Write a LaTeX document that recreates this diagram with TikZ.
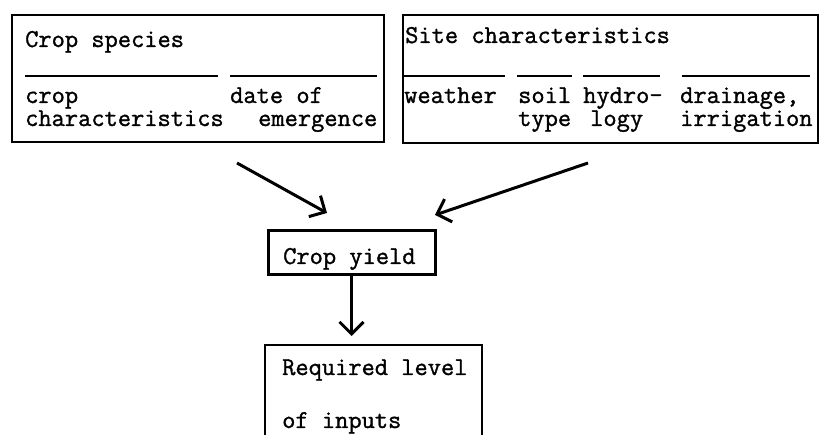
\documentclass[tikz,border=0pt]{standalone}
\usepackage{fontspec}
\newfontfamily\tw{Latin Modern Mono}[FakeBold=1.2]
\usetikzlibrary{arrows.meta}
\begin{document}
\begin{tikzpicture}[x=1pt,y=-1pt,
  frame/.style={draw,line width=2pt,inner sep=0pt},
  lbl/.style={anchor=base west,inner sep=0pt,align=left,
    font=\tw\fontsize{25.7}{23}\selectfont},
  rule/.style={line width=2pt},
  flow/.style={line width=3pt,-{Straight Barb[length=12pt,width=24pt,line width=3pt]}}]
\clip (0,0) rectangle (820,435);
\useasboundingbox (0,0) rectangle (820,435);

% crop species box
\node[frame,minimum width=372pt,minimum height=127pt] (species) at (198,78.5) {};
\node[lbl] (t1) at (25,47) {Crop species};
\draw[rule] (25,76) -- (218,76);
\draw[rule] (230,76) -- (377,76);
% two-line labels: the base anchor sits on the last line
\node[lbl] (t2) at (25,126) {crop\\characteristics};
\node[lbl] (t4) at (230,126) {date of\\\hspace{28pt}emergence};

% site characteristics box
\node[frame,minimum width=415pt,minimum height=128pt] (site) at (610.5,79) {};
\node[lbl] (s1) at (405,43) {Site characteristics};
\draw[rule] (403,76) -- (505,76);
\draw[rule] (517,76) -- (572,76);
\draw[rule] (583,76) -- (660,76);
\draw[rule] (682,76) -- (810,76);
\node[lbl] (s2) at (404,103) {weather};
\node[lbl] (s3) at (518,126) {soil\\type};
\node[lbl] (s5) at (583,126) {hydro-\\\hspace{7pt}logy};
\node[lbl] (s7) at (680,126) {drainage,\\irrigation};

% crop yield box
\node[frame,line width=3pt,minimum width=167pt,minimum height=44pt] (yield) at (351.5,252.5) {};
\node[lbl] (y1) at (283,264) {Crop yield};

% required inputs box, running off the lower edge
\node[frame,minimum width=217pt,minimum height=140pt] (req) at (373.5,415) {};
\node[lbl] (r1) at (282,375) {Required level};
\node[lbl] (r2) at (282,428) {of inputs};

% arrows
\coordinate (a1s) at (237,163);
\coordinate (a1e) at (327,213);
\coordinate (a2s) at (588,163);
\coordinate (a2e) at (435,215);
\draw[flow] (a1s) -- (a1e);
\draw[flow] (a2s) -- (a2e);
\draw[flow,shorten >=8pt] (yield.south) -- (yield.south |- req.north);
\end{tikzpicture}
\end{document}
